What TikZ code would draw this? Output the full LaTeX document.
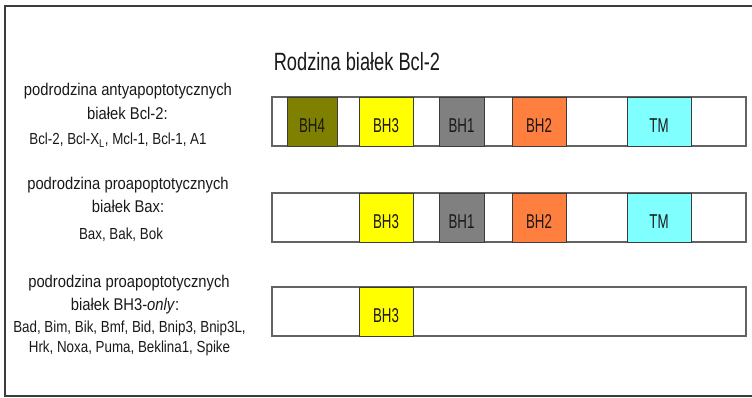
\documentclass[tikz,border=0pt]{standalone}
\usepackage{fontspec}
\setmainfont{Liberation Sans}
\newfontfamily\titlefont[FakeStretch=0.73]{Liberation Sans}
\newfontfamily\lblfont[FakeStretch=0.87]{Liberation Sans}
\newfontfamily\smlfont[FakeStretch=0.835]{Liberation Sans}
\newfontfamily\domfont[FakeStretch=0.665]{Liberation Sans}
\newcommand{\dlab}[1]{\raisebox{-4pt}[\height][\depth]{#1}}
\definecolor{olivebox}{RGB}{128,128,0}
\definecolor{yelbox}{RGB}{255,255,0}
\definecolor{graybox}{RGB}{128,128,128}
\definecolor{orangebox}{RGB}{255,127,63}
\definecolor{cyanbox}{RGB}{128,255,255}
\definecolor{framecol}{RGB}{60,60,60}
\definecolor{txtcol}{RGB}{25,25,25}
\tikzset{
  bar/.style={draw=framecol!80, line width=1.2pt, fill=white},
  dom/.style={draw=framecol, line width=0.8pt, font=\domfont\fontsize{20}{20}\selectfont, text=txtcol, inner sep=0pt, minimum height=49pt},
  lbl/.style={font=\lblfont\fontsize{17}{17}\selectfont, text=txtcol, inner sep=0pt, anchor=base},
  sml/.style={font=\smlfont\fontsize{16}{16}\selectfont, text=txtcol, inner sep=0pt, anchor=base},
}
\begin{document}
\begin{tikzpicture}[x=1pt,y=-1pt]
\useasboundingbox (0,0) rectangle (752,398);
% frame
\draw[framecol, line width=1.4pt] (752,6) -- (5,6) -- (5,396) -- (752,396);
% title
\node[font=\titlefont\fontsize{25}{25}\selectfont, text=txtcol, inner sep=0pt, anchor=base] (title) at (357,71) {Rodzina białek Bcl-2};
% row labels
\node[lbl] (r1a) at (128,96) {podrodzina antyapoptotycznych};
\node[lbl] (r1b) at (127.5,120) {białek Bcl-2:};
\node[sml] (r1c) at (118,145) {Bcl-2, Bcl-X\textsubscript{L}, Mcl-1, Bcl-1, A1};
\node[lbl] (r2a) at (128,190) {podrodzina proapoptotycznych};
\node[lbl] (r2b) at (128,213) {białek Bax:};
\node[sml] (r2c) at (121,240) {Bax, Bak, Bok};
\node[lbl] (r3a) at (129,287) {podrodzina proapoptotycznych};
\node[lbl] (r3b) at (125,310) {białek BH3-\textit{only}:};
\node[sml] (r3c) at (129.5,332) {Bad, Bim, Bik, Bmf, Bid, Bnip3, Bnip3L,};
\node[sml] (r3d) at (129.5,352) {Hrk, Noxa, Puma, Beklina1, Spike};
% bars
\draw[bar] (272,97) rectangle (746,146);
\draw[bar] (272,193) rectangle (746,242);
\draw[bar] (272,287) rectangle (746,336);
% row 1 domains
\node[dom, fill=olivebox, minimum width=50pt] (bh4a) at (312,121.5) {\dlab{BH4}};
\node[dom, fill=yelbox, minimum width=54pt] (bh3a) at (386,121.5) {\dlab{BH3}};
\node[dom, fill=graybox, minimum width=45pt] (bh1a) at (461.5,121.5) {\dlab{BH1}};
\node[dom, fill=orangebox, minimum width=54pt] (bh2a) at (539,121.5) {\dlab{BH2}};
\node[dom, fill=cyanbox, minimum width=64pt] (tma) at (659,121.5) {\dlab{TM}};
% row 2 domains
\node[dom, fill=yelbox, minimum width=54pt] (bh3b) at (386,217.5) {\dlab{BH3}};
\node[dom, fill=graybox, minimum width=45pt] (bh1b) at (461.5,217.5) {\dlab{BH1}};
\node[dom, fill=orangebox, minimum width=54pt] (bh2b) at (539,217.5) {\dlab{BH2}};
\node[dom, fill=cyanbox, minimum width=64pt] (tmb) at (659,217.5) {\dlab{TM}};
% row 3 domain
\node[dom, fill=yelbox, minimum width=54pt] (bh3c) at (386,311.5) {\dlab{BH3}};
\end{tikzpicture}
\end{document}
